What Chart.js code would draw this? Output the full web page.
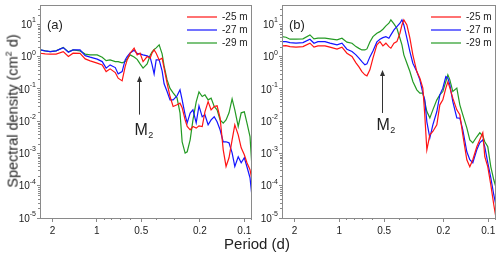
<!DOCTYPE html>
<html>
<head>
<meta charset="utf-8">
<script src="https://cdn.jsdelivr.net/npm/chart.js@4.4.1/dist/chart.umd.min.js"></script>
<style>
  html, body { margin: 0; padding: 0; background: #fff; }
  #wrap { position: relative; width: 500px; height: 259px; overflow: hidden; font-family: "Liberation Sans", Arial, sans-serif; color: #222; }
  #panelA { position: absolute; left: 0; top: 0; }
  #panelB { position: absolute; left: 260px; top: 0; }
  .y-title { position: absolute; left: 12px; top: 111px; transform: translate(-50%, -50%) rotate(-90deg); white-space: nowrap; font-size: 14.5px; }
  .y-title sup { font-size: 9px; }
  .x-title { position: absolute; left: 257px; top: 243px; transform: translate(-50%, -50%); white-space: nowrap; font-size: 15px; }
</style>
</head>
<body>
<div id="wrap">
  <canvas id="panelA" width="260" height="259"></canvas>
  <canvas id="panelB" width="240" height="259"></canvas>
  <div class="y-title">Spectral density (cm<sup>2</sup> d)</div>
  <div class="x-title">Period (d)</div>
</div>
<script>
// periods (d) and spectral densities (cm^2 d)
const periodA = [2.42, 2.24, 2.07, 1.89, 1.69, 1.56, 1.45, 1.30, 1.20, 1.11,
  0.995, 0.92, 0.865, 0.813, 0.75, 0.717, 0.674, 0.643, 0.623, 0.595,
  0.559, 0.533, 0.509, 0.486, 0.456, 0.435, 0.422, 0.409, 0.396, 0.378,
  0.361, 0.350, 0.334, 0.319, 0.304, 0.286, 0.273, 0.264, 0.252, 0.244,
  0.233, 0.223, 0.212, 0.203, 0.193, 0.185, 0.176, 0.168, 0.160, 0.153,
  0.146, 0.139, 0.133, 0.127, 0.121, 0.116, 0.110, 0.105, 0.100, 0.096,
  0.0915, 0.0887];
const redA = [1.28, 1.22, 1.20, 1.20, 1.44, 1.01, 1.28, 1.26, 0.855, 0.741,
  0.629, 0.557, 0.346, 0.419, 0.322, 0.216, 0.178, 0.494, 0.796, 1.28,
  1.83, 1.14, 1.28, 0.705, 1.01, 0.899, 1.31, 1.62, 1.28, 0.796,
  0.899, 0.441, 0.151, 0.0582, 0.0285, 0.0322, 0.0363, 0.0260, 0.0110, 0.00686,
  0.00542, 0.00686, 0.00611, 0.00721, 0.00686, 0.0195, 0.0407, 0.0225, 0.0285, 0.0300,
  0.0127, 0.00130, 0.000396, 0.000736, 0.00265, 0.00774, 0.00379, 0.00150, 0.000912, 0.000515,
  0.000313, 0.000153];
const blueA = [1.62, 1.51, 1.44, 1.51, 1.91, 1.38, 1.62, 1.62, 1.08, 0.965,
  0.837, 0.705, 0.441, 0.557, 0.460, 0.293, 0.346, 0.796, 1.01, 1.31,
  1.57, 1.26, 1.22, 1.14, 1.06, 0.951, 0.557, 0.293, 0.796, 0.796,
  0.363, 0.144, 0.0831, 0.0460, 0.0460, 0.0611, 0.0938, 0.0460, 0.0158, 0.00892,
  0.0178, 0.0225, 0.00892, 0.0300, 0.0137, 0.0158, 0.00774, 0.0110, 0.0137, 0.00958,
  0.00542, 0.00230, 0.00230, 0.00214, 0.00105, 0.000396, 0.000791, 0.000515, 0.000736, 0.000387,
  0.000177, 0.0000456];
const greenA = [1.62, 1.51, 1.44, 1.51, 1.94, 1.41, 1.62, 1.51, 1.20, 1.14,
  1.14, 0.965, 0.757, 0.796, 0.705, 0.705, 0.643, 0.705, 0.855, 1.14,
  0.98, 0.825, 0.598, 0.441, 0.598, 1.10, 1.41, 1.68, 1.87, 2.32,
  1.22, 0.519, 0.191, 0.104, 0.0757, 0.0530, 0.0182, 0.00230, 0.00103, 0.00113,
  0.00265, 0.0110, 0.0399, 0.0813, 0.0582, 0.0657, 0.0460, 0.0519, 0.0285, 0.0225,
  0.0110, 0.00873, 0.0110, 0.0182, 0.0494, 0.0225, 0.00686, 0.0182, 0.0195, 0.00892,
  0.00336, 0.000361];

const periodB = [2.43, 2.285, 2.147, 1.957, 1.757, 1.577, 1.482, 1.393, 1.250, 1.157,
  1.038, 0.961, 0.890, 0.823, 0.774, 0.739, 0.706, 0.674, 0.653, 0.624,
  0.595, 0.560, 0.534, 0.510, 0.487, 0.465, 0.451, 0.430, 0.411, 0.392,
  0.380, 0.369, 0.352, 0.336, 0.321, 0.302, 0.288, 0.275, 0.267, 0.2585,
  0.2468, 0.2356, 0.2215, 0.2115, 0.2019, 0.1927, 0.1868, 0.1811, 0.1730, 0.1626,
  0.1552, 0.1482, 0.1393, 0.1330, 0.1270, 0.1194, 0.1140, 0.1088, 0.1055, 0.1007,
  0.0961, 0.0918, 0.0890];
const redB = [2.16, 2.21, 2.05, 1.97, 2.05, 2.62, 1.97, 2.16, 2.16, 1.97,
  1.71, 1.97, 1.28, 1.01, 0.643, 0.483, 0.346, 0.273, 0.255, 0.390,
  0.899, 2.32, 2.93, 2.16, 2.62, 2.05, 1.83, 2.62, 2.93, 5.34,
  9.65, 13.8, 9.65, 3.74, 1.14, 0.346, 0.216, 0.106, 0.0158, 0.00130,
  0.00379, 0.00480, 0.00774, 0.0322, 0.0460, 0.106, 0.166, 0.108, 0.0519, 0.0225,
  0.0158, 0.00379, 0.000638, 0.000387, 0.000638, 0.00161, 0.00265, 0.00438, 0.000791, 0.000387,
  0.000107, 0.0000258, 0.0000110];
const blueB = [2.93, 2.93, 2.73, 2.62, 2.73, 3.48, 2.62, 2.93, 2.93, 2.62,
  2.32, 2.62, 1.71, 1.44, 1.14, 0.899, 0.705, 0.557, 0.598, 0.986,
  1.51, 2.87, 3.48, 3.90, 4.19, 3.74, 4.73, 6.76, 8.55, 10.9,
  13.8, 9.65, 3.74, 1.44, 0.629, 0.346, 0.191, 0.0741, 0.0460, 0.00958,
  0.00306, 0.00774, 0.0200, 0.0657, 0.106, 0.242, 0.216, 0.134, 0.0407, 0.0127,
  0.0125, 0.00542, 0.00113, 0.000638, 0.000515, 0.00130, 0.00214, 0.00265, 0.00161, 0.000515,
  0.000177, 0.0000526, 0.0000258];
const greenB = [4.19, 4.01, 3.48, 3.48, 3.56, 4.73, 3.56, 3.74, 3.74, 3.56,
  3.31, 3.74, 2.81, 2.62, 2.05, 1.81, 1.62, 1.62, 1.74, 2.87,
  4.19, 5.34, 5.98, 7.10, 8.99, 10.9, 13.8, 10.4, 7.63, 3.74,
  2.32, 1.14, 0.629, 0.346, 0.170, 0.0938, 0.0741, 0.0741, 0.0407, 0.0200,
  0.0127, 0.0225, 0.0460, 0.0657, 0.0831, 0.170, 0.273, 0.191, 0.0831, 0.106,
  0.0322, 0.0158, 0.00625, 0.00265, 0.00214, 0.00329, 0.00438, 0.00353, 0.00230, 0.00161,
  0.000387, 0.000153, 0.0000931];

const depthLabels = ["-25 m", "-27 m", "-29 m"];
const periodTicks = [2, 1, 0.5, 0.2, 0.1];
const periodMinorTicks = [0.9, 0.8, 0.7, 0.6, 0.4, 0.3, 0.09];
const densityExponents = [1, 0, -1, -2, -3, -4, -5];
const m2Period = 0.5175;

const FONT = '"Liberation Sans", Arial, sans-serif';
const TEXT = "#222";
const AXIS = "#8a8a8a";
const COLORS = ["#ff1414", "#1414ff", "#249a24"];

const panelDecor = {
  id: "panelDecor",
  afterDraw(chart, args, o) {

    const { ctx, chartArea: a } = chart;
    const x = chart.scales.x;
    const y = chart.scales.y;
    ctx.save();

    // frame
    ctx.strokeStyle = AXIS;
    ctx.lineWidth = 1;
    ctx.strokeRect(Math.round(a.left) + 0.5, Math.round(a.top) + 0.5, Math.round(a.right - a.left) - 1, Math.round(a.bottom - a.top));

    // minor ticks
    ctx.beginPath();
    periodMinorTicks.forEach(p => {
      const px = Math.round(x.getPixelForValue(p)) + 0.5;
      if (px <= a.left || px >= a.right) return;
      ctx.moveTo(px, a.bottom);
      ctx.lineTo(px, a.bottom + 2);
    });
    densityExponents.forEach(e => {
      for (let m = 2; m <= 9; m++) {
        const v = m * Math.pow(10, e);
        if (v >= y.max) continue;
        const py = Math.round(y.getPixelForValue(v)) + 0.5;
        ctx.moveTo(a.left - 2, py);
        ctx.lineTo(a.left, py);
      }
    });
    ctx.stroke();

    // y labels 10^n
    ctx.fillStyle = TEXT;
    ctx.textBaseline = "middle";
    densityExponents.forEach(e => {
      const py = y.getPixelForValue(Math.pow(10, e));
      const sup = String(e);
      ctx.font = `7px ${FONT}`;
      const w = ctx.measureText(sup).width;
      const right = a.left - 4;
      ctx.textAlign = "left";
      ctx.fillText(sup, right - w, py - 4);
      ctx.font = `10px ${FONT}`;
      ctx.textAlign = "right";
      ctx.fillText("10", right - w, py + 1);
    });

    // panel tag
    ctx.font = `13px ${FONT}`;
    ctx.textAlign = "left";
    ctx.fillText(o.tag, a.left + 7, a.top + 20);

    // legend
    ctx.font = `10px ${FONT}`;
    chart.data.datasets.forEach((ds, i) => {
      const ly = a.top + 12 + i * 13;
      ctx.strokeStyle = ds.borderColor;
      ctx.lineWidth = 1.2;
      ctx.beginPath();
      ctx.moveTo(a.right - 65, ly);
      ctx.lineTo(a.right - 35, ly);
      ctx.stroke();
      ctx.fillStyle = TEXT;
      ctx.fillText(ds.label, a.right - 30, ly);
    });

    // M2 arrow
    const ax = Math.round(x.getPixelForValue(m2Period)) + 0.5;
    const tipY = y.getPixelForValue(o.arrowTip);
    const baseY = y.getPixelForValue(o.arrowBase);
    ctx.strokeStyle = "#333";
    ctx.fillStyle = "#333";
    ctx.lineWidth = 1;
    ctx.beginPath();
    ctx.moveTo(ax, baseY);
    ctx.lineTo(ax, tipY + 5);
    ctx.stroke();
    ctx.beginPath();
    ctx.moveTo(ax, tipY);
    ctx.lineTo(ax - 2.5, tipY + 6);
    ctx.lineTo(ax + 2.5, tipY + 6);
    ctx.closePath();
    ctx.fill();

    ctx.fillStyle = TEXT;
    ctx.textBaseline = "alphabetic";
    ctx.textAlign = "left";
    ctx.font = `16px ${FONT}`;
    const mx = ax - o.textShift;
    const my = baseY + o.textGap;
    ctx.fillText("M", mx, my);
    const mw = ctx.measureText("M").width;
    ctx.font = `9px ${FONT}`;
    ctx.fillText("2", mx + mw + 0.5, my + 3);

    ctx.restore();
  }
};

function makePanel(canvasId, periods, series, opts) {

  const datasets = series.map((values, i) => ({
    label: depthLabels[i],
    data: periods.map((p, j) => ({ x: p, y: values[j] })),
    borderColor: COLORS[i],
    borderWidth: 1.2,
    pointRadius: 0,
    tension: 0,
    fill: false,
  }));

  return new Chart(document.getElementById(canvasId), {
    type: "line",
    data: { datasets },
    options: {
      responsive: false,
      animation: false,
      devicePixelRatio: 1,
      layout: { padding: { left: 0, right: opts.padRight, top: 5, bottom: 0 } },
      plugins: {
        legend: { display: false },
        tooltip: { enabled: false },
        panelDecor: opts.decor,
      },
      scales: {
        x: {
          type: "logarithmic",
          reverse: true,
          min: 0.0887,
          max: 2.43,
          afterBuildTicks: scale => { scale.ticks = periodTicks.map(v => ({ value: v })); },
          afterFit: scale => { scale.height = 41; },
          border: { display: false },
          grid: { drawOnChartArea: false, drawTicks: true, tickLength: 4, color: AXIS },
          ticks: {
            autoSkip: false,
            maxRotation: 0,
            padding: 3,
            color: TEXT,
            font: { family: FONT, size: 10 },
            callback: value => String(value),
          },
        },
        y: {
          type: "logarithmic",
          min: 1e-5,
          max: 40,
          afterBuildTicks: scale => { scale.ticks = densityExponents.map(e => ({ value: Math.pow(10, e) })); },
          afterFit: scale => { scale.width = opts.yWidth; },
          border: { display: false },
          grid: { drawOnChartArea: false, drawTicks: true, tickLength: 3, color: AXIS },
          ticks: { display: false },
        },
      },
    },
    plugins: [ panelDecor ],
  });
}

makePanel("panelA", periodA, [ redA, blueA, greenA ], {
  yWidth: 40,
  padRight: 8,
  decor: { tag: "(a)", arrowTip: 0.25, arrowBase: 0.016, textShift: 5, textGap: 20 },
});

makePanel("panelB", periodB, [ redB, blueB, greenB ], {
  yWidth: 22,
  padRight: 4,
  decor: { tag: "(b)", arrowTip: 0.39, arrowBase: 0.018, textShift: 6, textGap: 17 },
});
</script>
</body>
</html>
